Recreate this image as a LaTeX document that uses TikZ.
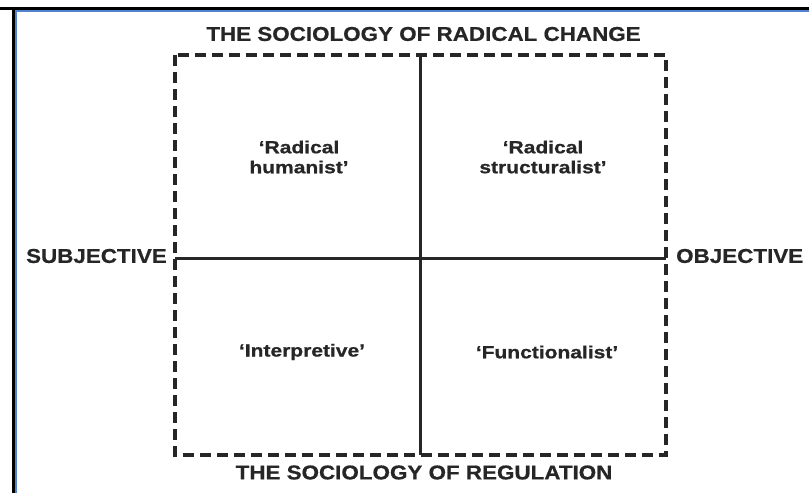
\documentclass[tikz,border=0pt]{standalone}
\usepackage{fontspec}
\newfontfamily\quadfont[FakeStretch=1.2,FakeBold=0.8]{Liberation Sans Bold}
\newfontfamily\capfont[FakeStretch=1.12,FakeBold=0.6]{Liberation Sans Bold}
\definecolor{frameblue}{RGB}{80,130,205}
\tikzset{
  quad/.style={font=\quadfont\fontsize{17.5}{20}\selectfont, align=center, text=black!85},
  axislabel/.style={font=\capfont\fontsize{20}{22}\selectfont, text=black!85, inner sep=0pt},
  dashbox/.style={draw=black!85, line width=3.2pt, dash pattern=on 11pt off 6pt},
  axisline/.style={draw=black!85, line width=3pt},
}
\begin{document}
\begin{tikzpicture}[x=1pt,y=-1pt]
\useasboundingbox (0,0) rectangle (809,493);
\fill[white] (0,0) rectangle (809,493);
% frame
\draw[line width=2.2pt] (0,8.5) -- (809,8.5);
\draw[frameblue, line width=1.6pt] (15,10.8) -- (809,10.8);
\draw[line width=2.2pt] (13.5,8.5) -- (13.5,493);
\draw[frameblue, line width=1.6pt] (15.8,10.8) -- (15.8,493);
% box corners
\coordinate (nw) at (175,55);
\coordinate (se) at (666,455);
\coordinate (top) at (420,55);
\coordinate (bot) at (420,455);
\coordinate (lft) at (175,258);
\coordinate (rgt) at (666,258);
\draw[dashbox] (nw) rectangle (se);
\draw[axisline] (top) -- (bot);
\draw[axisline] (lft) -- (rgt);
% labels
\node[axislabel] (tt) at (423.5,34) {THE SOCIOLOGY OF RADICAL CHANGE};
\node[axislabel] (bt) at (424,472.5) {THE SOCIOLOGY OF REGULATION};
\node[axislabel, anchor=east] (subj) at (167,256) {SUBJECTIVE};
\node[axislabel, anchor=west] (obj) at (676,256) {OBJECTIVE};
\node[quad] (rh) at (299,157) {‘Radical\\humanist’};
\node[quad] (rs) at (543,157) {‘Radical\\structuralist’};
\node[quad] (ip) at (302,352) {‘Interpretive’};
\node[quad] (fn) at (547,352) {‘Functionalist’};
\end{tikzpicture}
\end{document}
